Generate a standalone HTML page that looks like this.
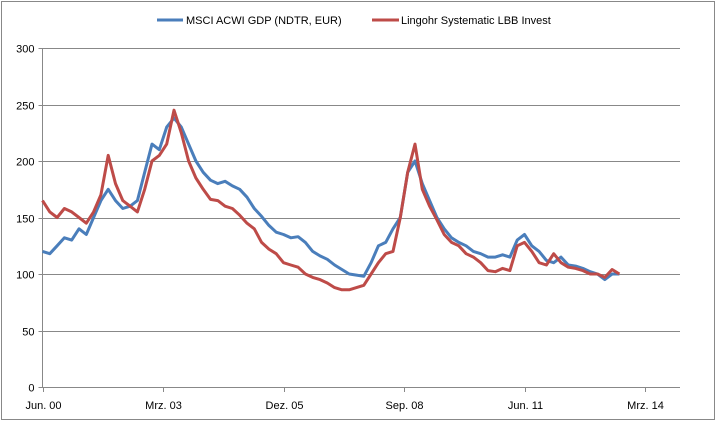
<!DOCTYPE html>
<html><head><meta charset="utf-8"><style>
body{margin:0;background:#fff}
svg text{font-family:"Liberation Sans",sans-serif;font-size:11px;fill:#000}
</style></head><body>
<svg id="chart" width="717" height="423" xmlns="http://www.w3.org/2000/svg">
<rect x="1.5" y="1.5" width="713" height="418" fill="#fff" stroke="#888"/>
<g id="grid"></g><g id="axes"></g><g id="series"></g>
<g>
<line x1="157" y1="20" x2="183" y2="20" stroke="#4a7ebb" stroke-width="3"/>
<text x="186" y="24">MSCI ACWI GDP (NDTR, EUR)</text>
<line x1="372" y1="20" x2="399" y2="20" stroke="#be4b48" stroke-width="3"/>
<text x="401" y="24">Lingohr Systematic  LBB Invest</text>
</g>
</svg>
<script>
const yTicks=[0,50,100,150,200,250,300];
const xTickLabels=["Jun. 00","Mrz. 03","Dez. 05","Sep. 08","Jun. 11","Mrz. 14"];
const xTickMonths=[0,33,66,99,132,165];
const months=[0,2,4,6,8,10,12,14,16,18,20,22,24,26,28,30,32,34,36,38,40,42,44,46,48,50,52,54,56,58,60,62,64,66,68,70,72,74,76,78,80,82,84,86,88,90,92,94,96,98,100,102,104,106,108,110,112,114,116,118,120,122,124,126,128,130,132,134,136,138,140,142,144,146,148,150,152,154,156,158];
const msci=[120,118,125,132,130,140,135,150,165,175,165,158,160,165,190,215,210,230,238,230,215,200,190,183,180,182,178,175,168,158,151,143,137,135,132,133,128,120,116,113,108,104,100,99,98,110,125,128,140,150,190,200,180,165,150,140,132,128,125,120,118,115,115,117,115,130,135,125,120,112,110,115,108,107,105,102,100,95,100,100];
const lingohr=[165,155,150,158,155,150,145,155,170,205,180,165,160,155,175,200,205,215,245,225,200,185,175,166,165,160,158,152,145,140,128,122,118,110,108,106,100,97,95,92,88,86,86,88,90,100,110,118,120,150,190,215,175,160,148,135,128,125,118,115,110,103,102,105,103,125,128,120,110,108,118,110,106,105,103,100,100,97,104,100];
const NS="http://www.w3.org/2000/svg";
const X0=42.5,X1=680,Y0=387,PXM=120.5/33,PXV=339/300;
const xs=m=>X0+m*PXM, ys=v=>Y0-v*PXV;
const grid=document.getElementById('grid'),axes=document.getElementById('axes'),ser=document.getElementById('series');
yTicks.forEach(v=>{
 const y=Math.round(ys(v))+0.5;
 if(v>0){const l=document.createElementNS(NS,'line');
 
 
 l.setAttribute('x1',X0);l.setAttribute('x2',X1);l.setAttribute('y1',y);l.setAttribute('y2',y);l.setAttribute('stroke','#888');grid.appendChild(l);}
 const t=document.createElementNS(NS,'line');
 
 
 t.setAttribute('x1',X0-4);t.setAttribute('x2',X0);t.setAttribute('y1',y);t.setAttribute('y2',y);t.setAttribute('stroke','#888');axes.appendChild(t);
 const tx=document.createElementNS(NS,'text');
 
 
 tx.setAttribute('x',X0-8);tx.setAttribute('y',y+4);tx.setAttribute('text-anchor','end');tx.textContent=v;axes.appendChild(tx);
});
const ax=document.createElementNS(NS,'path');


ax.setAttribute('d',`M${X0} ${ys(300)}V${Y0+0.5}H${X1}`);ax.setAttribute('stroke','#888');ax.setAttribute('fill','none');axes.appendChild(ax);
xTickMonths.forEach((m,i)=>{
 const x=Math.round(xs(m))+0.5;
 const t=document.createElementNS(NS,'line');
 
 
 t.setAttribute('x1',x);t.setAttribute('x2',x);t.setAttribute('y1',Y0);t.setAttribute('y2',Y0+5);t.setAttribute('stroke','#888');axes.appendChild(t);
 const tx=document.createElementNS(NS,'text');
 
 
 tx.setAttribute('x',x);tx.setAttribute('y',409);tx.setAttribute('text-anchor','middle');tx.textContent=xTickLabels[i];axes.appendChild(tx);
});
function line(vals,color,name){
 const p=document.createElementNS(NS,'polyline');
 
 
 p.setAttribute('points',vals.map((v,i)=>xs(months[i]).toFixed(1)+','+ys(v).toFixed(1)).join(' '));
 p.setAttribute('fill','none');p.setAttribute('stroke',color);p.setAttribute('stroke-width','3');p.setAttribute('stroke-linejoin','round');
 ser.appendChild(p);
}
line(msci,'#4a7ebb','series-msci');
line(lingohr,'#be4b48','series-lingohr');
</script>
</body></html>
